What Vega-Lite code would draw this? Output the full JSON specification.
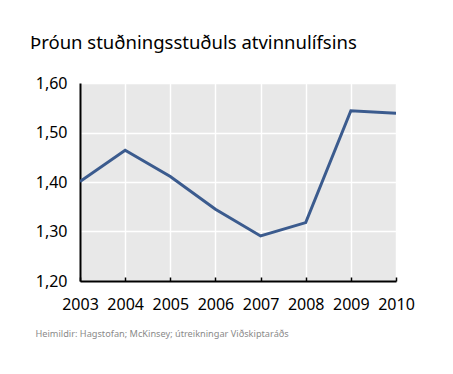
{
  "$schema": "https://vega.github.io/schema/vega-lite/v6.json",
  "width": 316,
  "height": 198,
  "autosize": {"type": "none"},
  "padding": {"left": 80, "top": 83, "right": 57, "bottom": 93},
  "background": "white",
  "title": {
    "text": "Þróun stuðningsstuðuls atvinnulífsins",
    "anchor": "start",
    "frame": "group",
    "dx": -50,
    "offset": 8,
    "baseline": "alphabetic",
    "font": "Noto Sans",
    "fontSize": 18.5,
    "fontWeight": "normal",
    "color": "black"
  },
  "data": {
    "values": [
      {"year": 2003, "value": 1.401},
      {"year": 2004, "value": 1.464},
      {"year": 2005, "value": 1.411},
      {"year": 2006, "value": 1.345},
      {"year": 2007, "value": 1.291},
      {"year": 2008, "value": 1.318},
      {"year": 2009, "value": 1.544},
      {"year": 2010, "value": 1.539}
    ]
  },
  "mark": {"type": "line", "color": "#3b5b8e", "strokeWidth": 3, "clip": true},
  "encoding": {
    "x": {
      "field": "year",
      "type": "quantitative",
      "scale": {"domain": [2003, 2010], "nice": false, "zero": false},
      "axis": {
        "values": [2003, 2004, 2005, 2006, 2007, 2008, 2009, 2010],
        "format": "d",
        "title": "Heimildir: Hagstofan; McKinsey;  útreikningar Viðskiptaráðs",
        "titleAnchor": "start",
        "titleAlign": "left",
        "titleX": -45,
        "titleY": 52,
        "titleBaseline": "middle",
        "titleFont": "Noto Sans",
        "titleFontSize": 9.2,
        "titleFontWeight": "normal",
        "titleColor": "#8a8a8a",
        "labelFont": "Noto Sans",
        "labelFontSize": 16,
        "labelColor": "black",
        "labelPadding": 19,
        "labelFlush": false,
        "labelOverlap": false,
        "ticks": true,
        "tickSize": -4,
        "tickColor": "black",
        "tickWidth": 1.5,
        "domainColor": "black",
        "domainWidth": 2,
        "grid": true,
        "gridColor": "white",
        "gridWidth": 1.5
      }
    },
    "y": {
      "field": "value",
      "type": "quantitative",
      "scale": {"domain": [1.2, 1.6], "nice": false, "zero": false},
      "axis": {
        "values": [1.2, 1.3, 1.4, 1.5, 1.6],
        "format": ".2f",
        "title": null,
        "labelFont": "Noto Sans",
        "labelFontSize": 16,
        "labelColor": "black",
        "labelPadding": 13,
        "labelFlush": false,
        "ticks": false,
        "domainColor": "black",
        "domainWidth": 2,
        "grid": true,
        "gridColor": "white",
        "gridWidth": 1.5
      }
    }
  },
  "config": {
    "locale": {
      "number": {"decimal": ",", "thousands": ".", "grouping": [3], "currency": ["", ""]}
    },
    "view": {"fill": "#e8e8e8", "stroke": null}
  }
}
